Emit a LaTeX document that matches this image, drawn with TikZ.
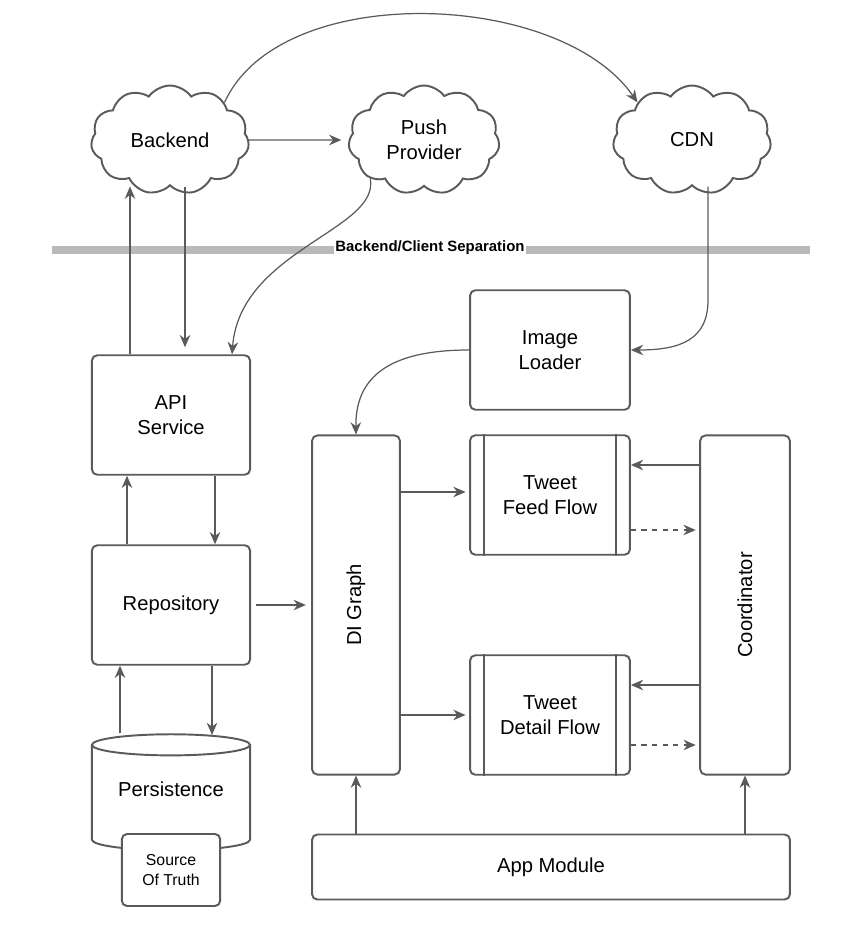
\documentclass[tikz,border=0pt]{standalone}
\usepackage{fontspec}
\setmainfont{Liberation Sans}
\usetikzlibrary{positioning,arrows.meta,shapes.symbols,shapes.geometric}
\definecolor{linegray}{RGB}{90,90,90}
\tikzset{
  box/.style={draw=linegray,line width=1.1pt,rounded corners=3pt,align=center,font=\fontsize{11.5}{14}\selectfont},
  cld/.style={draw=linegray,line width=1.1pt,cloud,cloud puffs=11,cloud puff arc=110,aspect=1.4,align=center,font=\fontsize{11.5}{14}\selectfont},
  arr/.style={-{Stealth[length=7pt,width=6pt]},draw=linegray,line width=0.7pt},
  darr/.style={arr,dashed},
}
\begin{document}
\begin{tikzpicture}[x=0.02cm,y=-0.02cm]
\useasboundingbox (0,0) rectangle (862,926);
% clouds
\node[cld,minimum width=90pt,minimum height=62pt] (backend) at (170,140) {Backend};
\node[cld,minimum width=86pt,minimum height=62pt] (push) at (424,140) {Push\\Provider};
\node[cld,minimum width=90pt,minimum height=62pt] (cdn) at (692,140) {CDN};
% separation
\draw[line width=4.5pt,gray!55] (52,250) -- (810,250);
\node[fill=white,inner sep=1pt,font=\bfseries\fontsize{8.5}{10}\selectfont] (sep) at (430,248) {Backend/Client Separation};
% boxes
\node[box,minimum width=90pt,minimum height=68pt] (api) at (171,415) {API\\Service};
\node[box,minimum width=90pt,minimum height=68pt] (repo) at (171,605) {Repository};
\node[box,minimum width=91pt,minimum height=68pt] (img) at (550,350) {Image\\Loader};
\node[box,minimum width=50pt,minimum height=193pt] (di) at (356,605) {};
\node[rotate=90,font=\fontsize{11.5}{14}\selectfont] (dilab) at (di) {DI Graph};
\node[box,minimum width=91pt,minimum height=68pt] (feed) at (550,495) {Tweet\\Feed Flow};
\node[box,minimum width=91pt,minimum height=68pt] (detail) at (550,715) {Tweet\\Detail Flow};
\foreach \n in {feed,detail}{
  \draw[linegray,line width=1.1pt] ([xshift=8.5pt]\n.north west) -- ([xshift=8.5pt]\n.south west);
  \draw[linegray,line width=1.1pt] ([xshift=-8.5pt]\n.north east) -- ([xshift=-8.5pt]\n.south east);
}
\node[box,minimum width=51pt,minimum height=193pt] (coord) at (745,605) {};
\node[rotate=90,font=\fontsize{11.5}{14}\selectfont] (colab) at (coord) {Coordinator};
\node[box,minimum width=272pt,minimum height=37pt] (app) at (551,867) {App Module};
% persistence
\node[cylinder,shape border rotate=90,aspect=0.18,draw=linegray,line width=1.1pt,fill=white,minimum width=90pt,minimum height=66pt,font=\fontsize{11.5}{14}\selectfont,text depth=12pt] (pers) at (171,800) {Persistence};
\node[box,fill=white,minimum width=56pt,minimum height=41pt,font=\fontsize{9}{11}\selectfont] (sot) at (171,870) {Source\\Of Truth};
% arrows
\draw[arr] (api.north -| 130,0) -- (backend.south -| 130,0);
\draw[arr] (backend.south -| 185,0) -- ([yshift=4pt]api.north -| 185,0);
\draw[arr] (backend.east) -- ([xshift=-4pt]push.west);
\draw[arr] (backend.north east) .. controls (280,-20) and (560,-10) .. (cdn.north west);
\draw[arr] (push.south west) .. controls (380,230) and (240,250) .. (api.north -| 232,0);
\draw[arr] (cdn.south -| 708,0) -- (708,300) .. controls (708,340) and (680,350) .. (img.east);
\draw[arr] (img.west) .. controls (400,350) and (355,370) .. (di.north);
\draw[arr] (repo.north -| 127,0) -- (api.south -| 127,0);
\draw[arr] (api.south -| 215,0) -- (repo.north -| 215,0);
\draw[arr] (pers.north -| 120,0) -- (repo.south -| 120,0);
\draw[arr] (repo.south -| 212,0) -- (212,735);
\draw[arr] ([xshift=3pt]repo.east) -- ([xshift=-3pt]di.west |- repo.east);
\draw[arr] (di.east |- 0,492) -- ([xshift=-2pt]feed.west |- 0,492);
\draw[arr] (di.east |- 0,715) -- ([xshift=-2pt]detail.west |- 0,715);
\draw[arr] (coord.west |- 0,465) -- (feed.east |- 0,465);
\draw[darr] (feed.east |- 0,530) -- ([xshift=-2pt]coord.west |- 0,530);
\draw[arr] (coord.west |- 0,685) -- (detail.east |- 0,685);
\draw[darr] (detail.east |- 0,745) -- ([xshift=-2pt]coord.west |- 0,745);
\draw[arr] (app.north -| di) -- (di.south);
\draw[arr] (app.north -| coord) -- (coord.south);
\end{tikzpicture}
\end{document}
